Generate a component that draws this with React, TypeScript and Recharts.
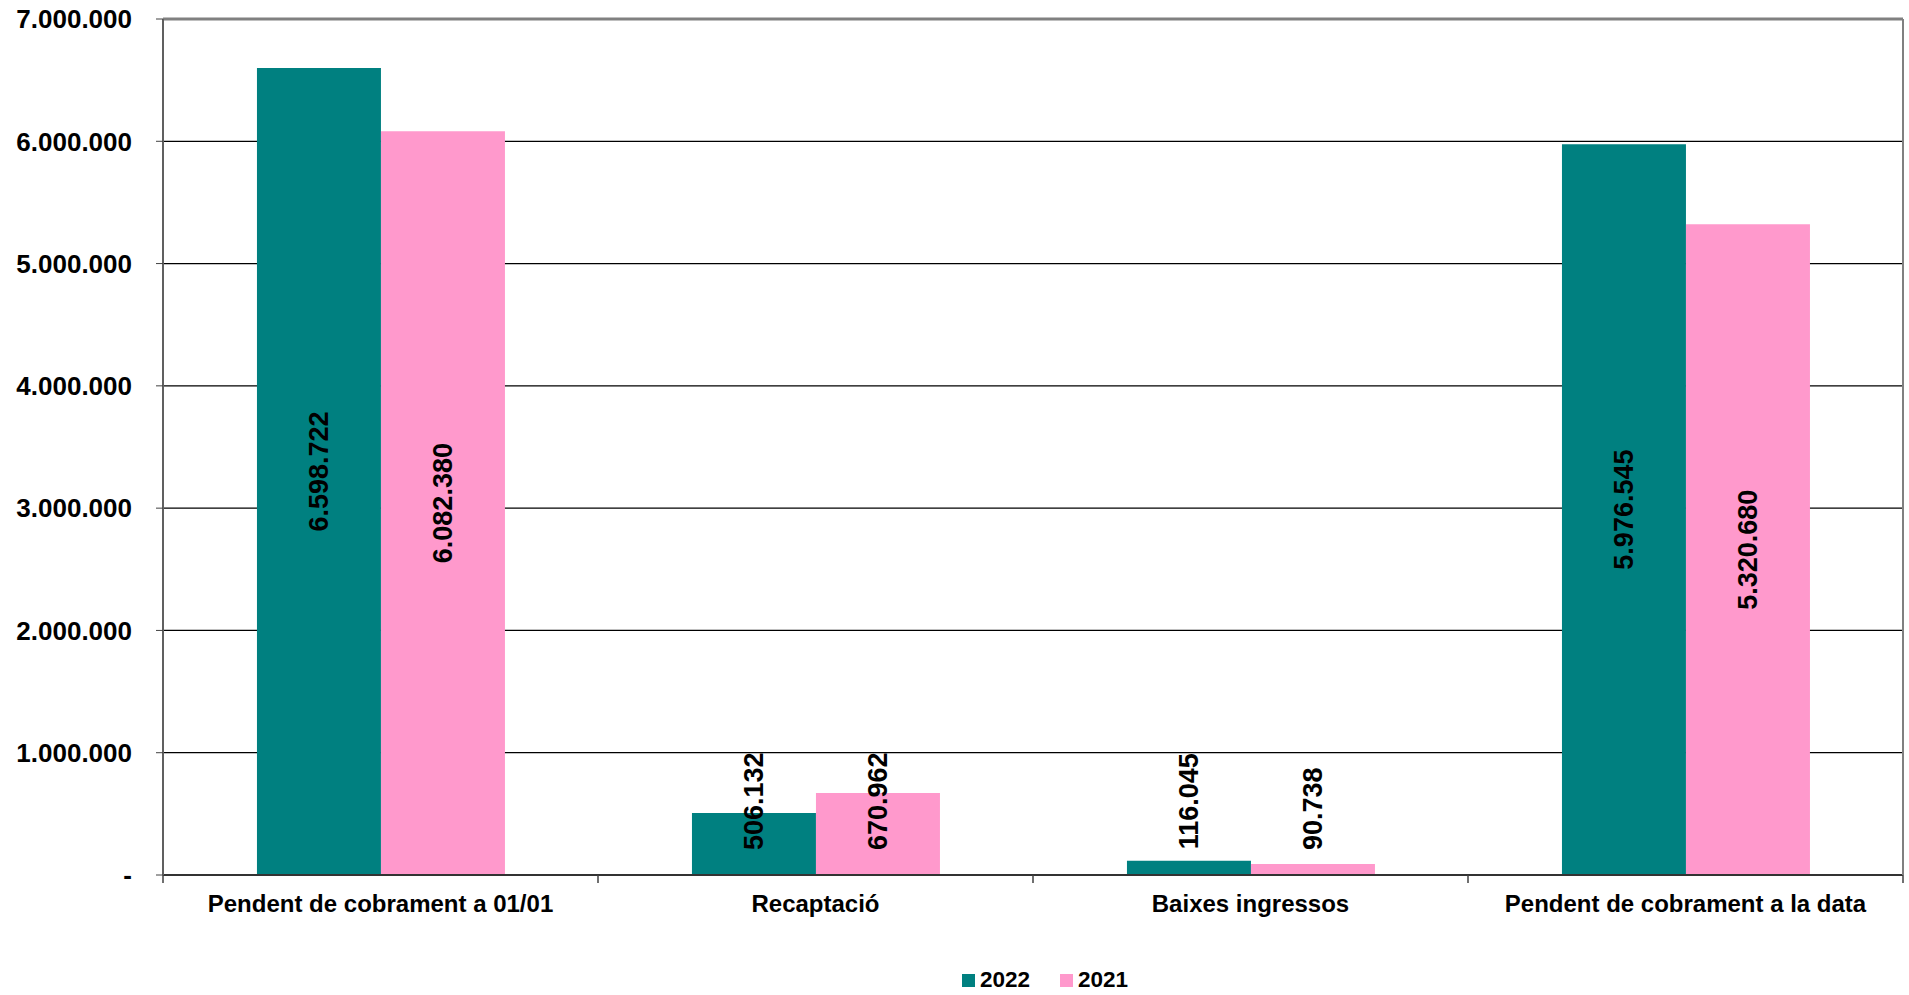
import { BarChart, Bar, XAxis, YAxis, CartesianGrid, Legend, LabelList, ReferenceLine } from "recharts"

const categories = ["Pendent de cobrament a 01/01", "Recaptació", "Baixes ingressos", "Pendent de cobrament a la data"]
const values2022 = [6598722, 506132, 116045, 5976545]
const values2021 = [6082380, 670962, 90738, 5320680]
const yTicks = [0, 1000000, 2000000, 3000000, 4000000, 5000000, 6000000, 7000000]
const seriesNames = ["2022", "2021"]
const seriesColors = ["#008080", "#FF99CC"]

const data = categories.map((name, i) => ({
  name,
  y2022: values2022[i],
  y2021: values2021[i],
}))

const FONT = "Arial, 'Liberation Sans', sans-serif"
const LABEL_SIZE = 27

const fmt = (v: number) =>
  v === 0 ? "-" : String(Math.round(v)).replace(/\B(?=(\d{3})+(?!\d))/g, ".")

// rough text length for Arial bold digits / dots
const textLen = (s: string) =>
  s.split("").reduce((acc, c) => acc + (c === "." ? 0.278 : 0.556), 0) * LABEL_SIZE

function BarValueLabel(props: any) {
  const { x, y, width, height, value } = props
  const text = fmt(Number(value))
  const cx = Number(x) + Number(width) / 2
  const base = Number(y) + Number(height)
  const center = Number(y) + Number(height) / 2
  // excel keeps the label inside the plot, above the axis, on short bars
  const cy = Math.min(center, base - 25 - textLen(text) / 2)
  return (
    <text
      x={cx}
      y={cy}
      transform={`rotate(-90, ${cx}, ${cy})`}
      textAnchor="middle"
      dominantBaseline="central"
      fontFamily={FONT}
      fontWeight="bold"
      fontSize={LABEL_SIZE}
      fill="#000"
    >
      {text}
    </text>
  )
}

function CategoryTick(props: any) {
  const { x, y, payload, index } = props
  const half = payload?.offset ?? 0
  const last = index === categories.length - 1
  return (
    <g>
      <line x1={x - half} x2={x - half} y1={y - 20} y2={y - 12} stroke="#404040" strokeWidth={1.5} />
      {last && <line x1={x + half} x2={x + half} y1={y - 20} y2={y - 12} stroke="#404040" strokeWidth={1.5} />}
      <text x={x} y={y} dy="0.71em" textAnchor="middle" fontFamily={FONT} fontWeight="bold" fontSize={24} fill="#000">
        {payload.value}
      </text>
    </g>
  )
}

function LegendContent() {
  return (
    <div
      style={{
        width: 1740,
        marginLeft: 175,
        height: 30,
        display: "flex",
        justifyContent: "center",
        alignItems: "center",
        gap: 30,
        fontFamily: FONT,
        fontWeight: "bold",
        fontSize: 22.5,
        color: "#000",
      }}
    >
      {seriesNames.map((n, i) => (
        <div key={n} style={{ display: "flex", alignItems: "center", gap: 5 }}>
          <span style={{ width: 13, height: 13, background: seriesColors[i], display: "inline-block" }} />
          <span>{n}</span>
        </div>
      ))}
    </div>
  )
}

export default function App() {
  return (
    <div style={{ width: 1909, height: 995, background: "#fff" }}>
      <style>{`body{margin:0}`}</style>
      <BarChart
        width={1909}
        height={995}
        data={data}
        margin={{ top: 19, right: 0, bottom: 0, left: 0 }}
        barCategoryGap="21.6%"
        barGap={0}
      >
        <CartesianGrid vertical={false} stroke="#000" strokeWidth={1.2} />
        <XAxis
          dataKey="name"
          height={90}
          tickLine={false}
          tickSize={8}
          tickMargin={12}
          axisLine={{ stroke: "#333", strokeWidth: 2 }}
          tick={<CategoryTick />}
          interval={0}
        />
        <YAxis
          width={163}
          domain={[0, 7000000]}
          ticks={yTicks}
          interval={0}
          tickFormatter={fmt}
          tickSize={7}
          tickMargin={24}
          axisLine={{ stroke: "#606060", strokeWidth: 2 }}
          tickLine={{ stroke: "#404040" }}
          tick={{ fontFamily: FONT, fontWeight: "bold", fontSize: 26, fill: "#000" }}
        />
        <YAxis
          yAxisId="r"
          orientation="right"
          width={6}
          domain={[0, 7000000]}
          tick={false}
          tickLine={false}
          axisLine={{ stroke: "#808080", strokeWidth: 2 }}
        />
        <ReferenceLine y={7000000} stroke="#808080" strokeWidth={3} />
        <Legend verticalAlign="bottom" content={<LegendContent />} wrapperStyle={{ left: 0, bottom: 0, width: 1909 }} />
        <Bar dataKey="y2022" name={seriesNames[0]} fill={seriesColors[0]} isAnimationActive={false}>
          <LabelList dataKey="y2022" content={<BarValueLabel />} />
        </Bar>
        <Bar dataKey="y2021" name={seriesNames[1]} fill={seriesColors[1]} isAnimationActive={false}>
          <LabelList dataKey="y2021" content={<BarValueLabel />} />
        </Bar>
      </BarChart>
    </div>
  )
}
